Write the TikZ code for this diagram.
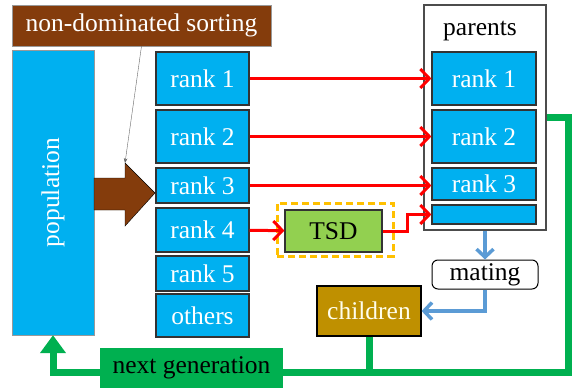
\documentclass[tikz,border=0pt]{standalone}
\usepackage{fontspec}
\setmainfont{Liberation Serif}
\usepackage{tikz}
\usetikzlibrary{positioning,arrows.meta,calc}
\definecolor{popblue}{HTML}{00B0F0}
\definecolor{sortbrown}{HTML}{843C0C}
\definecolor{tsdgreen}{HTML}{92D050}
\definecolor{childgold}{HTML}{BF9000}
\definecolor{gengreen}{HTML}{00B050}
\definecolor{frameorange}{HTML}{FFC000}
\definecolor{flowblue}{HTML}{5B9BD5}

\begin{document}
\begin{tikzpicture}[x=1pt,y=-1pt,>=Stealth,
   every node/.style={font=\rmfamily\fontsize{25.5}{28}\selectfont,inner sep=0pt},
   rankbox/.style={draw=black!80,line width=1.2pt,fill=popblue,text=white,minimum width=#1},
   redarrow/.style={draw=red,line width=3pt,-{Straight Barb[length=9pt,width=19pt]}},
   bluearrow/.style={draw=flowblue,line width=3.5pt,-{Straight Barb[length=8pt,width=17pt]}},
   greenline/.style={draw=gengreen,line width=7pt}]
  \useasboundingbox (0,0) rectangle (572,390);
  \node (sort) [fill=sortbrown,draw=black!40,text=white,minimum width=259pt,minimum height=41pt] at (141.5,25.5) {non-dominated sorting};
  \node (pop) [fill=popblue,draw=black!40,minimum width=82pt,minimum height=285pt] at (53,192.5) {};
  \node [rotate=90,text=white] at (pop) {population};
  \node (r1) [rankbox=93pt,minimum height=53pt] at (202.5,78.5) {rank 1};
  \node (r2) [rankbox=93pt,minimum height=53pt] at (202.5,136.5) {rank 2};
  \node (r3) [rankbox=93pt,minimum height=35pt] at (202.5,185.5) {rank 3};
  \node (r4) [rankbox=93pt,minimum height=44pt] at (202.5,230) {rank 4};
  \node (r5) [rankbox=93pt,minimum height=35pt] at (202.5,273.5) {rank 5};
  \node (oth) [rankbox=93pt,minimum height=43pt] at (202.5,315.5) {others};
  \node (par) [draw=black!70,line width=1.2pt,fill=white,minimum width=122pt,minimum height=225pt] at (485,117.5) {};
  \node (partitle) at (480,31) {parents};
  \node (p1) [rankbox=104pt,minimum height=53pt] at (484,78.5) {rank 1};
  \node (p2) [rankbox=104pt,minimum height=53pt] at (484,136.5) {rank 2};
  \node (p3) [rankbox=104pt,minimum height=32pt] at (484,184) {rank 3};
  \node (p4) [rankbox=104pt,minimum height=19pt] at (484,214.5) {};
  \node (frame) [draw=frameorange,line width=3pt,dash pattern=on 7pt off 4pt,minimum width=116pt,minimum height=53pt] at (335,229.5) {};
  \node (tsd) [draw=black!80,line width=1.2pt,fill=tsdgreen,minimum width=97pt,minimum height=42pt] at (333.5,231) {TSD};
  \node (mating) [draw=black,line width=1pt,rounded corners=6pt,fill=white,minimum width=106pt,minimum height=29pt] at (485,274.5) {mating};
  \node (child) [draw=black,line width=1.2pt,fill=childgold,text=white!92!yellow,minimum width=104pt,minimum height=50pt] at (369,311) {children};
  \coordinate (headtop) at (125,163);
  \draw[draw=black,fill=sortbrown] (94,178) -- (125,178) -- (headtop) -- (155,193) -- (125,226) -- (125,210) -- (94,210) -- cycle;
  \draw[->,black!60,thin] (sort.south) -- (headtop);
  \draw[redarrow] (r1) -- (p1);
  \draw[redarrow] (r2) -- (p2);
  \draw[redarrow] (r3.east) -- (r3.east -| p3.west);
  \draw[redarrow] (r4) -- (tsd);
  \draw[redarrow] (tsd.east) -- ++(25,0) |- (p4.west);
  \draw[bluearrow] (par.south) -- (mating.north);
  \draw[bluearrow] (mating.south) |- (child.east);
  \coordinate (gbase) at (568,372);
  \draw[greenline,-{Triangle[length=18pt,width=25pt]}] (par.east) -| (gbase) -| (pop.south);
  \draw[greenline] (child.south) -- (child.south |- gbase);
  \node (nextgen) [fill=gengreen,minimum width=183pt,minimum height=40pt] at (191.5,368) {next generation};
\end{tikzpicture}
\end{document}
